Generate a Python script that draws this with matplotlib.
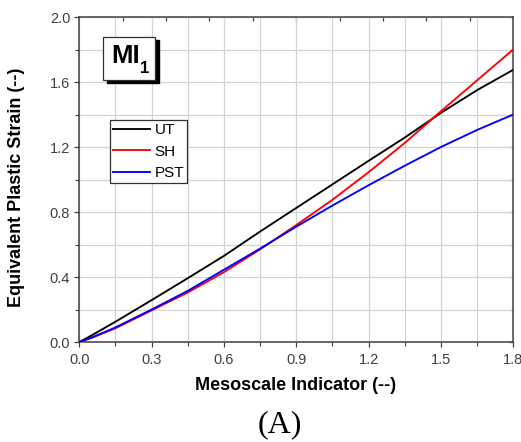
import matplotlib
matplotlib.use("Agg")
import matplotlib.pyplot as plt
from matplotlib.patches import Rectangle
from matplotlib.ticker import MultipleLocator, FixedLocator

plt.rcParams['font.family'] = ['Liberation Sans', 'DejaVu Sans']

# Data
mi = [0.0, 0.05, 0.15, 0.3, 0.45, 0.6, 0.75, 0.9, 1.05, 1.2, 1.35, 1.5, 1.65, 1.8]
ut = [0.0, 0.04, 0.125, 0.258, 0.393, 0.53, 0.68, 0.825, 0.97, 1.115, 1.258, 1.41, 1.55, 1.675]
sh = [0.0, 0.025, 0.085, 0.195, 0.305, 0.43, 0.57, 0.72, 0.875, 1.045, 1.225, 1.42, 1.61, 1.8]
pst = [0.0, 0.027, 0.09, 0.2, 0.315, 0.445, 0.575, 0.71, 0.84, 0.965, 1.085, 1.2, 1.305, 1.40]
series_names = ["UT", "SH", "PST"]
series_colors = ["black", "#ff0000", "#0000ff"]

fig = plt.figure(figsize=(5.21, 4.42), dpi=100)
ax = fig.add_axes([0.152, 0.226, 0.833, 0.7355])

for vals, name, col in zip([ut, sh, pst], series_names, series_colors):
    ax.plot(mi, vals, color=col, lw=1.35, label=name, zorder=3)

ax.set_xlim(0, 1.8)
ax.set_ylim(0, 2.0)
ax.xaxis.set_major_locator(MultipleLocator(0.3))
ax.xaxis.set_minor_locator(MultipleLocator(0.15))
ax.yaxis.set_major_locator(MultipleLocator(0.4))
ax.yaxis.set_minor_locator(MultipleLocator(0.2))
ax.xaxis.set_major_formatter(matplotlib.ticker.FormatStrFormatter('%.1f'))
ax.yaxis.set_major_formatter(matplotlib.ticker.FormatStrFormatter('%.1f'))
ax.grid(True, which='both', color='#d4d4d4', lw=0.9, zorder=0)
ax.set_axisbelow(True)

spine_col = '#404040'
for s in ax.spines.values():
    s.set_color(spine_col)
    s.set_linewidth(1.1)

ax.tick_params(which='both', direction='out', color=spine_col, labelcolor='#404040',
               labelsize=10.5, top=False, right=False)
ax.tick_params(which='major', length=3.5, width=0.9)
ax.tick_params(which='minor', length=3.0, width=0.8)
ax.tick_params(axis='x', which='major', pad=4)
ax.tick_params(axis='y', which='major', pad=3)

# inward ticks on top and right
top = ax.secondary_xaxis('top')
top.xaxis.set_major_locator(FixedLocator([0.18, 0.54, 0.90, 1.26, 1.62]))
top.xaxis.set_minor_locator(FixedLocator([0.36, 0.72, 1.08, 1.44]))
top.tick_params(which='both', direction='in', length=3, width=0.9, color=spine_col,
                labeltop=False)
top.spines['top'].set_visible(False)
right = ax.secondary_yaxis('right')
right.yaxis.set_major_locator(MultipleLocator(0.4))
right.yaxis.set_minor_locator(MultipleLocator(0.2))
right.tick_params(which='both', direction='in', length=3, width=0.9, color=spine_col,
                  labelright=False)
right.spines['right'].set_visible(False)

ax.set_xlabel("Mesoscale Indicator (--)", fontsize=13, fontweight='bold')
ax.set_ylabel("Equivalent Plastic Strain (--)", fontsize=13, fontweight='bold')
ax.xaxis.set_label_coords(0.499, -0.135)
ax.yaxis.set_label_coords(-0.144, 0.475)
ax.xaxis.label.set_va('center')
ax.yaxis.label.set_va('center')

leg = ax.legend(loc='upper left', bbox_to_anchor=(0.0707, 0.683), borderaxespad=0,
                fontsize=11, handlelength=2.4, handletextpad=0.3, borderpad=0.22,
                labelspacing=0.48, fancybox=False, framealpha=1, edgecolor='#303030')
leg.get_frame().set_linewidth(0.9)

# MI_1 label box with shadow
bx0, bx1, by0, by1 = 0.054, 0.174, 0.806, 0.939
ax.add_patch(Rectangle((bx0 + 0.0095, by0 - 0.010), bx1 - bx0, by1 - by0,
                       transform=ax.transAxes, facecolor='black', edgecolor='black',
                       zorder=5, clip_on=False))
ax.add_patch(Rectangle((bx0, by0), bx1 - bx0, by1 - by0, transform=ax.transAxes,
                       facecolor='white', edgecolor='#303030', lw=0.9, zorder=6,
                       clip_on=False))
ax.text(0.073, 0.858, "MI", transform=ax.transAxes, fontsize=18.5, fontweight='bold',
        ha='left', va='baseline', zorder=7)
ax.text(0.139, 0.829, "1", transform=ax.transAxes, fontsize=12, fontweight='bold',
        ha='left', va='baseline', zorder=7)

fig.text(0.5375, 0.038, "(A)", fontsize=23, family=['Liberation Serif', 'DejaVu Serif'],
         ha='center', va='center')

fig.savefig("out.png", dpi=100)
